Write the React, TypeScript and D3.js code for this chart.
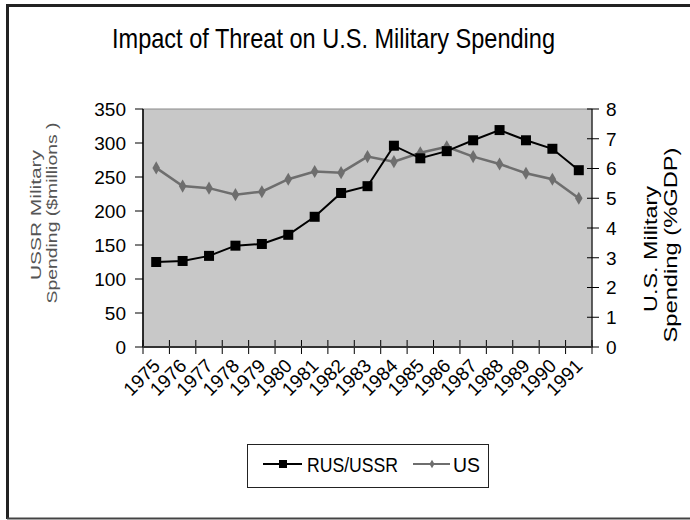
import React from "react";
import * as d3 from "d3";

const years = ["1975","1976","1977","1978","1979","1980","1981","1982","1983","1984","1985","1986","1987","1988","1989","1990","1991"];
const rusUssr = [125, 126.5, 134, 149, 151.5, 165, 191.5, 226.5, 236.5, 296, 277.5, 288, 304, 319, 304, 291.5, 260];
const usGdp = [6.02, 5.41, 5.34, 5.12, 5.22, 5.64, 5.9, 5.86, 6.4, 6.23, 6.53, 6.73, 6.4, 6.15, 5.84, 5.64, 5.0];
const leftTicks = [0, 50, 100, 150, 200, 250, 300, 350];
const rightTicks = [0, 1, 2, 3, 4, 5, 6, 7, 8];

const W = 690, H = 520;
const PL = 143, PR = 592, PT = 109, PB = 347;
const FONT = "Liberation Sans, Arial, sans-serif";

export default function App() {
  const x = d3.scaleBand<string>().domain(years).range([PL, PR]).padding(0);
  const yL = d3.scaleLinear().domain([0, 350]).range([PB, PT]);
  const yR = d3.scaleLinear().domain([0, 8]).range([PB, PT]);
  const cx = (y: string) => (x(y) as number) + x.bandwidth() / 2;

  const rusLine = d3.line<number>().x((_, i) => cx(years[i])).y((d) => yL(d))(rusUssr) as string;
  const usLine = d3.line<number>().x((_, i) => cx(years[i])).y((d) => yR(d))(usGdp) as string;
  const diamond = d3.symbol().type(d3.symbolDiamond).size(50)() as string;
  const diamondSmall = d3.symbol().type(d3.symbolDiamond).size(22)() as string;

  const boundaries = d3.range(years.length + 1).map((i) => PL + i * x.bandwidth());

  return (
    <svg width={W} height={H} style={{ display: "block", position: "absolute", left: 0, top: 0 }} fontFamily={FONT}>
      <rect x={0} y={0} width={W} height={H} fill="#fff" />
      {/* outer frame */}
      <line x1={7} y1={5.5} x2={W} y2={5.5} stroke="#222" strokeWidth={3} />
      <line x1={7.5} y1={4} x2={7.5} y2={519} stroke="#222" strokeWidth={3} />
      <line x1={7} y1={518.5} x2={W} y2={518.5} stroke="#444" strokeWidth={2} />

      {/* title */}
      <text x={112} y={48} fontSize={28} textLength={443} lengthAdjust="spacingAndGlyphs" fill="#000">
        Impact of Threat on U.S. Military Spending
      </text>

      {/* plot area */}
      <rect x={PL} y={PT} width={PR - PL} height={PB - PT} fill="#C8C8C8" stroke="#8a8a8a" strokeWidth={1} />

      {/* left axis */}
      <line x1={PL} y1={PT} x2={PL} y2={PB} stroke="#000" strokeWidth={1.5} />
      {leftTicks.map((t) => (
        <g key={"l" + t}>
          <line x1={PL - 8} x2={PL} y1={yL(t)} y2={yL(t)} stroke="#000" strokeWidth={1} />
          <text x={126} y={yL(t)} dy="0.36em" fontSize={19} textAnchor="end" fill="#000">{t}</text>
        </g>
      ))}

      {/* right axis */}
      <line x1={PR} y1={PT} x2={PR} y2={PB} stroke="#000" strokeWidth={1} />
      {rightTicks.map((t) => (
        <g key={"r" + t}>
          <line x1={PR - 5} x2={PR + 7} y1={yR(t)} y2={yR(t)} stroke="#000" strokeWidth={1} />
          <text x={606} y={yR(t)} dy="0.36em" fontSize={19} textAnchor="start" fill="#000">{t}</text>
        </g>
      ))}

      {/* bottom axis */}
      {boundaries.map((b, i) => (
        <line key={"b" + i} x1={b} x2={b} y1={PB - 7} y2={PB + 7} stroke="#000" strokeWidth={1} />
      ))}
      <line x1={PL} y1={PB} x2={PR} y2={PB} stroke="#333" strokeWidth={2} />
      {years.map((yr) => (
        <text key={"x" + yr} transform={`translate(${cx(yr) + 5},${367}) rotate(-45)`} fontSize={19} textAnchor="end" fill="#000">
          {yr}
        </text>
      ))}

      {/* series */}
      <path d={usLine} fill="none" stroke="#6e6e6e" strokeWidth={2.5} />
      {usGdp.map((v, i) => (
        <path key={"u" + i} d={diamond} transform={`translate(${cx(years[i])},${yR(v)})`} fill="#6e6e6e" />
      ))}
      <path d={rusLine} fill="none" stroke="#000" strokeWidth={2} />
      {rusUssr.map((v, i) => (
        <rect key={"s" + i} x={cx(years[i]) - 5} y={yL(v) - 5} width={10} height={10} fill="#000" />
      ))}

      {/* axis titles */}
      <text transform={`translate(41,215) rotate(-90)`} fontSize={15} textAnchor="middle" fill="#555" textLength={130} lengthAdjust="spacingAndGlyphs">
        USSR Military
      </text>
      <text transform={`translate(57,213) rotate(-90)`} fontSize={15} textAnchor="middle" fill="#555" textLength={181} lengthAdjust="spacingAndGlyphs">
        Spending ($millions )
      </text>
      <text transform={`translate(657,249) rotate(-90)`} fontSize={18} textAnchor="middle" fill="#000" textLength={126} lengthAdjust="spacingAndGlyphs">
        U.S. Military
      </text>
      <text transform={`translate(677,245) rotate(-90)`} fontSize={18} textAnchor="middle" fill="#000" textLength={195} lengthAdjust="spacingAndGlyphs">
        Spending (%GDP)
      </text>

      {/* legend */}
      <rect x={247.5} y={444.5} width={241} height={43} fill="#fff" stroke="#222" strokeWidth={1} />
      <line x1={263} x2={302} y1={464} y2={464} stroke="#000" strokeWidth={2} />
      <rect x={279} y={460} width={8} height={8} fill="#000" />
      <text x={307} y={472} fontSize={20} textLength={91} lengthAdjust="spacingAndGlyphs" fill="#000">RUS/USSR</text>
      <line x1={413} x2={450} y1={464} y2={464} stroke="#6e6e6e" strokeWidth={2} />
      <path d={diamondSmall} transform={`translate(432,464)`} fill="#6e6e6e" />
      <text x={453} y={472} fontSize={20} textLength={27} lengthAdjust="spacingAndGlyphs" fill="#000">US</text>
    </svg>
  );
}
